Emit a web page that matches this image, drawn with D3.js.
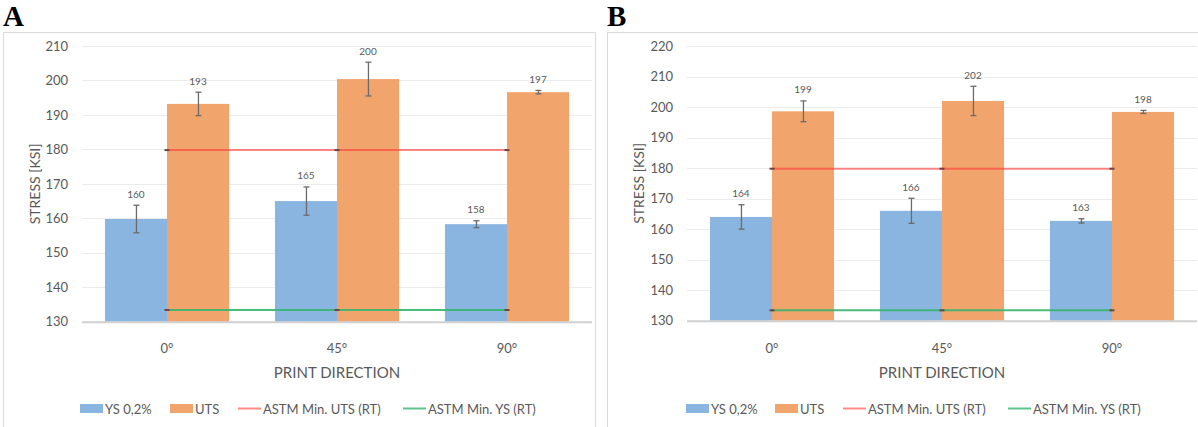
<!DOCTYPE html>
<html>
<head>
<meta charset="utf-8">
<script src="https://cdn.jsdelivr.net/npm/d3@7"></script>
<style>
  body { margin: 0; background: #fff; }
  svg { display: block; font-family: Lato, "Open Sans", sans-serif; }
</style>
</head>
<body>
<div id="chart"></div>
<script>
// data
let categories = ["0°", "45°", "90°"]
let seriesNames = ["YS 0,2%", "UTS"]

let ysA = [159.8, 165.0, 158.3]
let ysErrA = [4.0, 4.1, 1.0]
let utsA = [193.2, 200.4, 196.6]
let utsErrA = [3.4, 4.9, 0.5]

let ysB = [164.0, 166.0, 162.7]
let ysErrB = [4.0, 4.1, 0.7]
let utsB = [198.6, 202.0, 198.4]
let utsErrB = [3.4, 4.8, 0.5]

let astmUts = [179.8, 179.8, 179.8]
let astmYs = [133.4, 133.4, 133.4]

let ticksA = [130, 140, 150, 160, 170, 180, 190, 200, 210]
let ticksB = [130, 140, 150, 160, 170, 180, 190, 200, 210, 220]

let legendNames = ["YS 0,2%", "UTS", "ASTM Min. UTS (RT)", "ASTM Min. YS (RT)"]

const blue = '#8ab5e0'
const orange = '#f1a46c'
const red = '#ff3b3b'
const green = '#35b56e'
const textCol = '#595959'

let svg = d3.select('#chart').append('svg')
  .attr('width', 1198)
  .attr('height', 427)

function drawPanel(opts) {
  let g = svg.append('g')

  // frame
  g.append('rect')
    .attr('x', opts.frameX + 0.5).attr('y', 32.5)
    .attr('width', opts.frameW).attr('height', 420)
    .attr('fill', 'none').attr('stroke', '#d9d9d9')

  g.append('text')
    .attr('x', opts.frameX).attr('y', 26)
    .attr('font-family', '"Liberation Serif", "DejaVu Serif", serif')
    .attr('font-weight', 'bold').attr('font-size', '29px')
    .text(opts.letter)

  let x0 = d3.scaleBand()
    .domain(categories)
    .range([opts.left, opts.right])
    .paddingInner(0.27)
    .paddingOuter(0.135)

  let x1 = d3.scaleBand()
    .domain(seriesNames)
    .range([0, x0.bandwidth()])

  let y = d3.scaleLinear()
    .domain([130, opts.yMax])
    .range([opts.bottom, opts.top])

  // gridlines
  g.append('g').selectAll('line')
    .data(opts.ticks.slice(1))
    .enter().append('line')
    .attr('x1', opts.left).attr('x2', opts.right)
    .attr('y1', d => Math.round(y(d)) + 0.5)
    .attr('y2', d => Math.round(y(d)) + 0.5)
    .attr('stroke', '#ebebeb')

  // y axis labels
  let yAxis = d3.axisLeft(y).tickValues(opts.ticks).tickSize(0).tickPadding(14)
  let yg = g.append('g')
    .attr('transform', 'translate(' + opts.left + ',0)')
    .call(yAxis)
  yg.select('.domain').remove()
  yg.selectAll('text').attr('font-size', '13px').attr('fill', textCol)
    .attr('font-family', 'Lato, sans-serif')

  g.append('text')
    .attr('transform', 'translate(' + (opts.frameX + 37) + ',' + ((opts.top + opts.bottom) / 2) + ') rotate(-90)')
    .attr('text-anchor', 'middle')
    .attr('font-size', '14px').attr('fill', textCol)
    .text('STRESS [KSI]')

  let rows = categories.map((c, i) => ({
    cat: c,
    vals: [
      {name: seriesNames[0], v: opts.ys[i], e: opts.ysErr[i], color: blue},
      {name: seriesNames[1], v: opts.uts[i], e: opts.utsErr[i], color: orange}
    ]
  }))

  let groups = g.selectAll('.grp')
    .data(rows)
    .enter().append('g')
    .attr('transform', d => 'translate(' + x0(d.cat) + ',0)')

  groups.selectAll('rect')
    .data(d => d.vals)
    .enter().append('rect')
    .attr('x', d => x1(d.name))
    .attr('width', x1.bandwidth())
    .attr('y', d => y(d.v))
    .attr('height', d => y(130) - y(d.v))
    .attr('fill', d => d.color)

  // baseline
  g.append('line')
    .attr('x1', opts.left).attr('x2', opts.right)
    .attr('y1', opts.bottom + 0.5).attr('y2', opts.bottom + 0.5)
    .attr('stroke', '#d0d0d0').attr('stroke-width', 2)

  // ASTM lines
  let lineGen = d3.line()
    .x((d, i) => x0(categories[i]) + x0.bandwidth() / 2)
    .y(d => y(d))

  let lines = [{vals: astmUts, color: red, op: 0.6}, {vals: astmYs, color: green, op: 0.9}]
  lines.forEach(function(l) {
    g.append('path')
      .attr('d', lineGen(l.vals))
      .attr('fill', 'none')
      .attr('stroke', l.color)
      .attr('stroke-opacity', l.op)
      .attr('stroke-width', 2)
    g.selectAll(null)
      .data(l.vals)
      .enter().append('line')
      .attr('x1', (d, i) => x0(categories[i]) + x0.bandwidth() / 2 - 2.5)
      .attr('x2', (d, i) => x0(categories[i]) + x0.bandwidth() / 2 + 2.5)
      .attr('y1', d => y(d)).attr('y2', d => y(d))
      .attr('stroke', '#6a4545').attr('stroke-width', 2)
  })

  // error bars
  let eb = groups.selectAll('.err')
    .data(d => d.vals)
    .enter().append('g')
    .attr('transform', d => 'translate(' + (Math.round(x1(d.name) + x1.bandwidth() / 2) + 0.5) + ',0)')
  eb.append('line')
    .attr('y1', d => y(d.v + d.e)).attr('y2', d => y(d.v - d.e))
    .attr('stroke', '#6b6b6b').attr('stroke-width', 1.3)
  eb.selectAll('.cap')
    .data(d => [d.v + d.e, d.v - d.e])
    .enter().append('line')
    .attr('x1', -3).attr('x2', 3)
    .attr('y1', d => y(d)).attr('y2', d => y(d))
    .attr('stroke', '#6b6b6b').attr('stroke-width', 1.3)

  // data labels
  groups.selectAll('.lbl')
    .data(d => d.vals)
    .enter().append('text')
    .attr('x', d => x1(d.name) + x1.bandwidth() / 2)
    .attr('y', d => y(d.v + d.e) - 11)
    .attr('dy', '0.35em')
    .attr('text-anchor', 'middle')
    .attr('font-size', '10px').attr('fill', textCol)
    .text(d => d3.format('.0f')(d.v))

  // x axis labels
  g.selectAll('.xl')
    .data(categories)
    .enter().append('text')
    .attr('x', d => x0(d) + x0.bandwidth() / 2)
    .attr('y', 348).attr('dy', '0.35em')
    .attr('text-anchor', 'middle')
    .attr('font-size', '13px').attr('fill', textCol)
    .text(d => d)

  g.append('text')
    .attr('x', (opts.left + opts.right) / 2)
    .attr('y', 373).attr('dy', '0.35em')
    .attr('text-anchor', 'middle')
    .attr('font-size', '15px').attr('fill', textCol)
    .text('PRINT DIRECTION')

  // legend
  let lx = opts.legendX
  let legendColors = [blue, orange, red, green]
  legendNames.forEach(function(name, i) {
    let sx = lx + opts.legendOffsets[i]
    if (i < 2) {
      g.append('rect')
        .attr('x', sx).attr('y', 404)
        .attr('width', 23).attr('height', 9)
        .attr('fill', legendColors[i])
    } else {
      g.append('line')
        .attr('x1', sx).attr('x2', sx + 23)
        .attr('y1', 408.5).attr('y2', 408.5)
        .attr('stroke', legendColors[i])
        .attr('stroke-opacity', i == 2 ? 0.6 : 0.8)
        .attr('stroke-width', 2)
    }
    g.append('text')
      .attr('x', sx + 25).attr('y', 409).attr('dy', '0.35em')
      .attr('font-size', '13px').attr('fill', textCol)
      .text(name)
  })
}

drawPanel({
  letter: 'A', frameX: 3, frameW: 592,
  left: 82, right: 592, top: 46, bottom: 321.7, yMax: 210,
  ticks: ticksA, ys: ysA, ysErr: ysErrA, uts: utsA, utsErr: utsErrA,
  legendX: 80, legendOffsets: [0, 90, 158, 323]
})

drawPanel({
  letter: 'B', frameX: 607, frameW: 600,
  left: 687, right: 1197, top: 46, bottom: 320.7, yMax: 220,
  ticks: ticksB, ys: ysB, ysErr: ysErrB, uts: utsB, utsErr: utsErrB,
  legendX: 686, legendOffsets: [0, 89, 157, 322]
})
</script>
</body>
</html>
